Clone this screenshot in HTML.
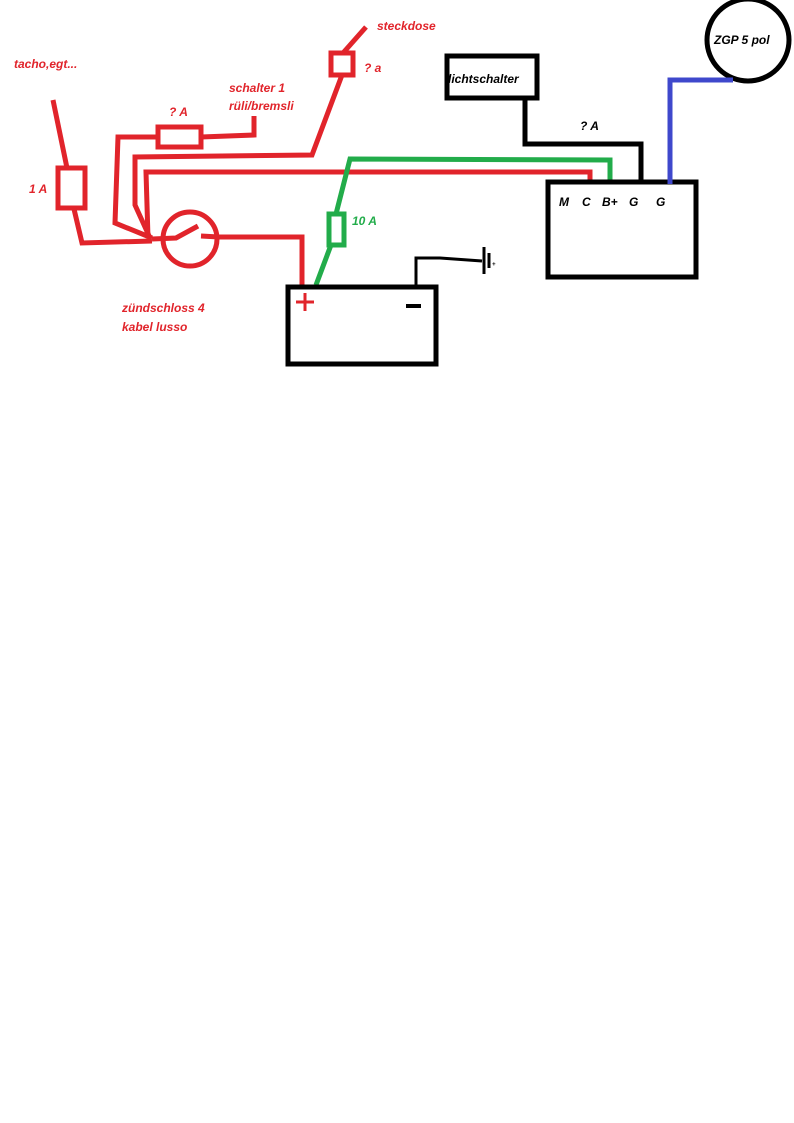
<!DOCTYPE html>
<html><head><meta charset="utf-8"><style>
html,body{margin:0;padding:0;background:#fff;}
svg{display:block;}
text{font-family:"Liberation Sans",sans-serif;font-style:italic;font-weight:bold;font-size:12px;}
</style></head><body>
<svg width="794" height="1123" viewBox="0 0 794 1123" xmlns="http://www.w3.org/2000/svg">
<g fill="none" stroke="#e1242b" stroke-width="5" stroke-linejoin="miter">
<polyline points="53,100 67,168"/>
<rect x="58" y="168" width="27" height="40"/>
<polyline points="74,209 82,243 152,241"/>
<circle cx="190" cy="239" r="27"/>
<polyline points="152,239 176,238 198,226"/>
<polyline points="201,236 219,237 302,237 302,285"/>
<polyline points="152,238 115,223 118,137 158,137"/>
<rect x="158" y="127" width="43" height="20"/>
<polyline points="201,137 254,135 254,116"/>
<polyline points="150,238 135,205 135,157 312,155 342,75"/>
<rect x="331" y="53" width="22" height="22"/>
<polyline points="343,53 366,27"/>
<polyline points="148,238 146,172 590,172 590,184"/>
</g>
<g fill="none" stroke="#22ac4a" stroke-width="5">
<polyline points="316,285 331,245"/>
<rect x="329" y="214" width="15" height="31"/>
<polyline points="336,214 350,159 610,160 610,184"/>
</g>
<g fill="none" stroke="#000" stroke-width="5">
<rect x="288" y="287" width="148" height="77"/>
<rect x="447" y="56" width="90" height="42"/>
<rect x="548" y="182" width="148" height="95"/>
<circle cx="748" cy="40" r="41"/>
<polyline points="525,98 525,144 641,144 641,184"/>
</g>
<g fill="none" stroke="#000" stroke-width="3">
<polyline points="416,285 416,258 440,258 482,261"/>
<line x1="484" y1="247" x2="484" y2="274" stroke-width="3"/>
<line x1="489" y1="253" x2="489" y2="268" stroke-width="3"/>
<line x1="406" y1="306" x2="421" y2="306" stroke-width="4"/>
</g>
<g fill="none" stroke="#3f48cc" stroke-width="5">
<polyline points="670,184 670,80 733,80"/>
</g>
<g stroke="#e1242b" stroke-width="3">
<line x1="305" y1="293" x2="305" y2="311"/>
<line x1="296" y1="302" x2="314" y2="302"/>
</g>
<g fill="#e1242b">
<text x="14" y="68">tacho,egt...</text>
<text x="29" y="193">1 A</text>
<text x="169" y="116">? A</text>
<text x="229" y="92">schalter 1</text>
<text x="229" y="110">rüli/bremsli</text>
<text x="377" y="30">steckdose</text>
<text x="364" y="72">? a</text>
<text x="122" y="312">zündschloss 4</text>
<text x="122" y="331">kabel lusso</text>
</g>
<text x="352" y="225" fill="#22ac4a">10 A</text>
<g fill="#000">
<text x="448" y="83">lichtschalter</text>
<text x="580" y="130">? A</text>
<text x="559" y="206">M</text>
<text x="582" y="206">C</text>
<text x="602" y="206">B+</text>
<text x="629" y="206">G</text>
<text x="656" y="206">G</text>
<text x="714" y="44">ZGP 5 pol</text>
<text x="492" y="266" style="font-size:6px">+</text>
</g>
</svg>
</body></html>
